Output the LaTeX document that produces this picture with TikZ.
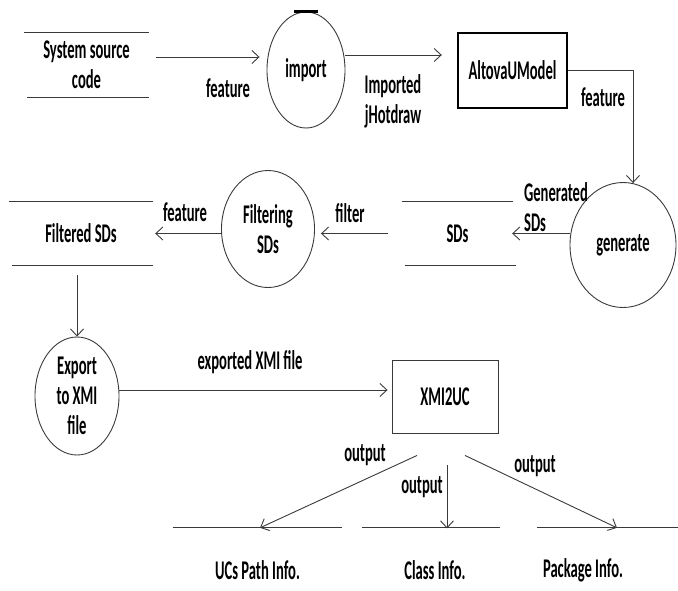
\documentclass[tikz,border=0pt]{standalone}
\usepackage{fontspec}
\setmainfont{Carlito}[FakeStretch=0.54]
\usetikzlibrary{shapes.geometric,arrows.meta,calc}
\definecolor{ln}{HTML}{3A3A3A}
\begin{document}
\begin{tikzpicture}[x=1pt,y=-1pt,
  font=\fontsize{27}{30}\selectfont\bfseries,
  every node/.style={inner sep=0pt, align=center},
  proc/.style={ellipse, draw=ln, line width=0.9pt},
  store/.style={rectangle},
  sline/.style={draw=ln, line width=1.1pt},
  flow/.style={draw=ln, line width=0.9pt, -{Straight Barb[length=7pt,width=13pt]}}]
\useasboundingbox (0,0) rectangle (678,590);

% data stores
\node[store, minimum width=125pt, minimum height=64pt] (src) at (86.5,65) {System source\\code};
\draw[sline] (src.north west) -- (src.north east);
\draw[sline] ($(src.south west)+(3,0)$) -- (src.south east);

\node[store, minimum width=111pt, minimum height=63pt] (sds) at (457.5,233.5) {SDs};
\draw[sline] (sds.north west) -- (sds.north east);
\draw[sline] ($(sds.south west)+(3,0)$) -- ($(sds.south east)+(3,0)$);

\node[store, minimum width=144pt, minimum height=63pt] (fsd) at (81,233.5) {Filtered SDs};
\draw[sline] (fsd.north west) -- (fsd.north east);
\draw[sline] ($(fsd.south west)+(3,0)$) -- (fsd.south east);

\node[store, minimum width=169pt, minimum height=84pt] (ucs) at (257.5,570) {UCs Path Info.};
\draw[sline] (ucs.north west) -- (ucs.north east);
\node[store, minimum width=138pt, minimum height=84pt] (cls) at (435,570) {Class Info.};
\draw[sline] ($(cls.north west)+(-4,0)$) -- ($(cls.north east)+(-4,0)$);
\node[store, minimum width=92pt, minimum height=84pt] (pkg) at (583,570) {Package Info.};
\draw[sline] (pkg.north west) -- (pkg.north west -| 678,0);

% processes
\node[proc, minimum width=78pt, minimum height=116pt] (imp) at (306,70) {import};
\draw[line width=2.2pt] ($(imp.north)+(-12,0)$) -- ($(imp.north)+(12,0)$);
\node[proc, minimum width=106pt, minimum height=125pt] (gen) at (623,245) {generate};
\node[proc, minimum width=93pt, minimum height=117pt] (filt) at (268,229) {Filtering\\SDs};
\node[proc, minimum width=84pt, minimum height=118pt] (exp) at (77,396) {Export\\to XMI\\file};

% boxes
\node[draw=black, line width=2.4pt, minimum width=109pt, minimum height=75pt] (alt) at (512.5,70.5) {AltovaUModel};
\node[draw=ln, line width=0.9pt, minimum width=106pt, minimum height=73pt] (xmi) at (445,396.5) {XMI2UC};

% connectors
\draw[flow] ($(src.east)+(7,-8)$) -- ($(imp.west)+(-7,-13)$);
\node (l1) at (228,88) {feature};

\draw[flow] ($(imp.east)+(0,-15)$) -- ($(alt.west)+(-15,-15.5)$);
\node (l2) at (393,101) {Imported\\jHotdraw};

\draw[flow] (alt.east) -| ($(gen.north)+(10,1)$);
\node (l3) at (603,97) {feature};

\draw[flow] (gen.west |- sds.east) -- ($(sds.east)+(-1,0)$);
\node[align=left] (l4) at (556,207) {Generated\\SDs};

\draw[flow] ($(sds.west)+(-14,0)$) -- ($(filt.east |- sds.east)+(6,0)$);
\node (l5) at (350,213) {filter};

\draw[flow] (filt.west |- fsd.east) -- ($(fsd.east)+(2,0)$);
\node (l6) at (185,212) {feature};

\draw[flow] ($(fsd.south -| exp.north)+(0,10)$) -- (exp.north);

\draw[flow] ($(exp.east)+(0,-6)$) -- ($(xmi.west)+(-4,-6.5)$);
\node (l7) at (250,362) {exported XMI file};

\draw[flow] ($(xmi.south)+(-28,22)$) -- ($(ucs.north)+(2.5,0)$);
\node (l8) at (365,455) {output};
\draw[flow] ($(xmi.south)+(2,32)$) -- ($(xmi.south)+(2,95)$);
\node (l9) at (422,487) {output};
\draw[flow] ($(xmi.south)+(20,22)$) -- ($(pkg.north)+(34,0)$);
\node (l10) at (535,466) {output};
\end{tikzpicture}
\end{document}
